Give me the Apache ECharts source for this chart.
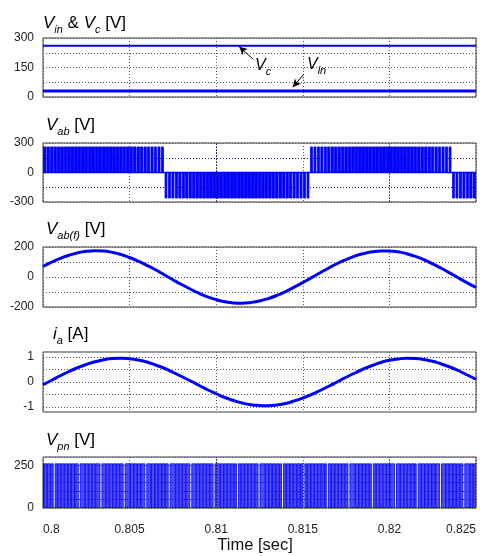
<!DOCTYPE html>
<html><head><meta charset="utf-8">
<script src="https://cdn.jsdelivr.net/npm/echarts@6/dist/echarts.min.js"></script>
<style>html,body{margin:0;padding:0;background:#fff}#c{width:480px;height:556px}</style>
</head><body><div id="c"></div>
<script>
// ---------------- data ----------------
const timeMin = 0.8, timeMax = 0.825, timeStep = 0.005;
const xTickLabels = ['0.8', '0.805', '0.81', '0.815', '0.82', '0.825'];
const innerGridTimes = [0.805, 0.81, 0.815, 0.82];

// panel 1 : V_in & V_c
const dcTimes = [0.8, 0.805, 0.81, 0.815, 0.82, 0.825];
const vcValues = [260, 260, 260, 260, 260, 260];
const vinValues = [31, 31, 31, 31, 31, 31];
const yLabels1 = [0, 150, 300];

// panel 2 : V_ab PWM (carrier clock + signed duty per carrier period, estimated from the picture density)
const carrierStart = 0.8001;
const carrierPeriod = 0.0002;
const vabLevel = 260;
const vabDuty = [
  0.71, 0.72, 0.74, 0.76, 0.77, 0.79, 0.80, 0.81, 0.82, 0.83,
  0.84, 0.84, 0.85, 0.85, 0.85, 0.85, 0.85, 0.84, 0.83, 0.83,
  0.82, 0.81, 0.79, 0.78, 0.76, 0.75, 0.73, 0.71, 0.69, 0.67,
  0.65, 0.63, 0.61, 0.59, 0.56, -0.56, -0.58, -0.61, -0.63, -0.65,
  -0.67, -0.69, -0.71, -0.73, -0.75, -0.76, -0.78, -0.79, -0.81, -0.82,
  -0.83, -0.83, -0.84, -0.85, -0.85, -0.85, -0.85, -0.85, -0.85, -0.84,
  -0.83, -0.82, -0.81, -0.80, -0.79, -0.77, -0.76, -0.74, -0.72, -0.71,
  -0.69, -0.67, -0.64, -0.62, -0.60, -0.58, -0.55, 0.57, 0.59, 0.61,
  0.63, 0.66, 0.68, 0.70, 0.72, 0.73, 0.75, 0.77, 0.78, 0.80,
  0.81, 0.82, 0.83, 0.84, 0.84, 0.85, 0.85, 0.85, 0.85, 0.85,
  0.84, 0.84, 0.83, 0.82, 0.81, 0.80, 0.78, 0.77, 0.75, 0.73,
  0.72, 0.70, 0.68, 0.66, 0.63, 0.61, 0.59, 0.57, -0.55, -0.57,
  -0.60, -0.62, -0.64, -0.66, -0.69
];
const vabBaseline = [[0.8, 0], [0.825, 0]];
const yLabels2 = [-300, 0, 300];
const vabGridValues = [-150, 150];

// panels 3,4 : sampled waveforms
const sampleTimes = [
  0.8, 0.8005, 0.801, 0.8015, 0.802, 0.8025, 0.803, 0.8035, 0.804, 0.8045,
  0.805, 0.8055, 0.806, 0.8065, 0.807, 0.8075, 0.808, 0.8085, 0.809, 0.8095,
  0.81, 0.8105, 0.811, 0.8115, 0.812, 0.8125, 0.813, 0.8135, 0.814, 0.8145,
  0.815, 0.8155, 0.816, 0.8165, 0.817, 0.8175, 0.818, 0.8185, 0.819, 0.8195,
  0.82, 0.8205, 0.821, 0.8215, 0.822, 0.8225, 0.823, 0.8235, 0.824, 0.8245, 0.825
];
const vabfValues = [
  70, 99, 124, 145, 161, 171, 175, 173, 164, 150,
  130, 106, 78, 48, 15, -18, -50, -80, -108, -132,
  -151, -165, -173, -175, -170, -160, -144, -123, -97, -68,
  -37, -4, 28, 60, 90, 116, 139, 156, 168, 174,
  174, 168, 155, 138, 115, 88, 58, 26, -7, -39, -70
];
const yLabels3 = [-200, 0, 200];
const iaValues = [
  -0.11, 0.07, 0.25, 0.42, 0.57, 0.70, 0.81, 0.89, 0.94, 0.95,
  0.93, 0.88, 0.80, 0.68, 0.55, 0.39, 0.22, 0.05, -0.13, -0.31,
  -0.47, -0.62, -0.74, -0.84, -0.91, -0.94, -0.95, -0.92, -0.86, -0.76,
  -0.64, -0.50, -0.34, -0.17, 0.01, 0.19, 0.36, 0.52, 0.66, 0.78,
  0.87, 0.92, 0.95, 0.94, 0.90, 0.83, 0.72, 0.60, 0.45, 0.28, 0.11
];
const yLabels4 = [-1, 0, 1];
const iaGridValues = [-1, -0.5, 0, 0.5, 1];

// panel 5 : V_pn (shoot-through notches at switching instants, light stripes)
const vpnLevel = 260;
const vpnNotchWidth = 0.00003;
const vpnStripeWidth = 0.00011;
const vpnLightStripes = [
  0.80059, 0.80204, 0.80329, 0.80463, 0.80588, 0.80723, 0.80848, 0.80982, 0.81117, 0.81242,
  0.81377, 0.81501, 0.81636, 0.81761, 0.81896, 0.82030, 0.82155, 0.82290, 0.82424
];
const yLabels5 = [0, 250];
const vpnGridValues = [50, 100, 150, 200];

// ---------------- build ----------------
function zip(xs, ys) { return xs.map((x, i) => [x, ys[i]]); }
// pulses as [start, end, level]
function buildPulses(duty, level) {
  return duty.map((d, i) => {
    const c = carrierStart + i * carrierPeriod;
    const half = Math.abs(d) * carrierPeriod / 2;
    return [c - half, c + half, d >= 0 ? level : -level];
  });
}
function buildVpn() {
  const notches = [];
  vabDuty.forEach((d, i) => {
    const c = carrierStart + i * carrierPeriod;
    const t = c - Math.abs(d) * carrierPeriod / 2;
    const near = vpnLightStripes.some(s => t > s - 0.00012 && t < s + vpnStripeWidth + 0.00012);
    if (!near) notches.push([t, vpnNotchWidth]);
  });
  vpnLightStripes.forEach(s => notches.push([s, vpnStripeWidth]));
  notches.sort((a, b) => a[0] - b[0]);
  const on = [];
  let cur = timeMin;
  notches.forEach(([t, w]) => { if (t > cur) on.push([cur, t, vpnLevel]); cur = t + w; });
  if (cur < timeMax) on.push([cur, timeMax, vpnLevel]);
  return on;
}
function pulseRenderer(fill, strokeW) {
  return (params, api) => {
    const a = api.coord([api.value(0), 0]);
    const b = api.coord([api.value(1), api.value(2)]);
    return {
      type: 'rect',
      shape: { x: a[0], y: Math.min(a[1], b[1]), width: Math.max(b[0] - a[0], 0.3), height: Math.abs(b[1] - a[1]) },
      style: { fill: fill, stroke: '#0000ff', lineWidth: strokeW }
    };
  };
}

const FONT = '"Liberation Sans", Arial, Helvetica, sans-serif';
const NARROW = '"Liberation Sans Narrow", "Arial Narrow", "Liberation Sans", sans-serif';
const BLUE = '#0000ff';
const GRIDLINE = { color: '#555', type: [1, 2], width: 1 };
const OVERGRID = { color: '#101060', type: [1, 2], width: 1, opacity: 0.75 };

function overGrid(yValues) {
  return {
    silent: true, z: 10, symbol: ['none', 'none'], label: { show: false }, lineStyle: OVERGRID,
    data: yValues.map(v => ({ yAxis: v })).concat(innerGridTimes.map(t => ({ xAxis: t })))
  };
}

function rich(size, sub) {
  const base = { fontFamily: FONT, fontWeight: 'normal', color: '#000', verticalAlign: 'bottom' };
  return {
    v: Object.assign({}, base, { fontStyle: 'italic', fontSize: size, padding: [0, 0, 3, 0] }),
    s: Object.assign({}, base, { fontStyle: 'italic', fontSize: sub }),
    n: Object.assign({}, base, { fontStyle: 'normal', fontSize: size, padding: [0, 0, 3, 0] })
  };
}
function title(text, left, top, size, sub) {
  return { text, left, top, padding: 0, textStyle: { fontWeight: 'normal', rich: rich(size, sub) } };
}

const panels = [[38, 59], [143, 59], [247, 60], [352, 60], [457, 51]];
const yDefs = [
  { min: 0, max: 300, interval: 75, labels: yLabels1, split: true },
  { min: -300, max: 300, interval: 150, labels: yLabels2, split: true },
  { min: -200, max: 200, interval: 100, labels: yLabels3, split: true },
  { min: -1.2, max: 1.2, interval: 0.2, labels: yLabels4, split: false },
  { min: 0, max: 300, interval: 50, labels: yLabels5, split: true }
];

const option = {
  animation: false,
  backgroundColor: '#fff',
  textStyle: { fontFamily: FONT },
  title: [
    title('{v|V}{s|in}{n| & }{v|V}{s|c}{n| [V]}', 43, 15, 17, 11),
    title('{v|V}{s|ab}{n| [V]}', 46, 117, 17, 11),
    title('{v|V}{s|ab(f)}{n| [V]}', 46, 221, 17, 11),
    title('{v|i}{s|a}{n| [A]}', 53, 326, 17, 11),
    title('{v|V}{s|pn}{n| [V]}', 46, 432, 17, 11),
    title('{v|V}{s|c}', 255, 58, 16, 11),
    title('{v|V}{s|in}', 307, 57, 16, 11)
  ],
  grid: panels.map(p => ({
    left: 43, width: 433, top: p[0], height: p[1], show: true,
    borderColor: '#3a3a3a', borderWidth: 1, backgroundColor: '#fff',
    containLabel: false, outerBoundsMode: 'none'
  })),
  xAxis: panels.map((p, i) => ({
    type: 'value', gridIndex: i, min: timeMin, max: timeMax, interval: timeStep,
    axisLine: { show: false }, axisTick: { show: false },
    splitLine: { show: true, lineStyle: GRIDLINE },
    axisLabel: i === 4 ? {
      show: true, margin: 16, fontSize: 12, fontFamily: NARROW, color: '#222',
      alignMinLabel: 'left', alignMaxLabel: 'right',
      formatter: v => xTickLabels[Math.round((v - timeMin) / timeStep)] || ''
    } : { show: false }
  })),
  yAxis: yDefs.map((d, i) => ({
    type: 'value', gridIndex: i, min: d.min, max: d.max, interval: d.interval,
    axisLine: { show: false }, axisTick: { show: false },
    splitLine: { show: d.split, lineStyle: GRIDLINE },
    axisLabel: {
      margin: 9, fontSize: 12, fontFamily: NARROW, color: '#222',
      formatter: v => { const l = d.labels.find(x => Math.abs(x - v) < 1e-6); return l === undefined ? '' : String(l); }
    }
  })),
  series: [
    {
      name: 'Vc', type: 'line', xAxisIndex: 0, yAxisIndex: 0, data: zip(dcTimes, vcValues),
      showSymbol: false, lineStyle: { color: BLUE, width: 2 }, itemStyle: { color: BLUE },
      markLine: {
        silent: true, symbol: ['none', 'arrow'], symbolSize: [6, 8], label: { show: false },
        lineStyle: { color: '#000', width: 1, type: 'solid' },
        data: [[{ coord: [0.81214, 192] }, { coord: [0.81133, 256] }],
               [{ coord: [0.81507, 117] }, { coord: [0.81442, 50] }]]
      }
    },
    {
      name: 'Vin', type: 'line', xAxisIndex: 0, yAxisIndex: 0, data: zip(dcTimes, vinValues),
      showSymbol: false, lineStyle: { color: BLUE, width: 3 }, itemStyle: { color: BLUE }
    },
    {
      name: 'VabZero', type: 'line', xAxisIndex: 1, yAxisIndex: 1, data: vabBaseline,
      showSymbol: false, lineStyle: { color: BLUE, width: 1.5 }, itemStyle: { color: BLUE }
    },
    {
      name: 'Vab', type: 'custom', xAxisIndex: 1, yAxisIndex: 1, data: buildPulses(vabDuty, vabLevel),
      encode: { x: [0, 1], y: 2 }, clip: true, renderItem: pulseRenderer('#0000ff', 0.8),
      markLine: overGrid(vabGridValues)
    },
    {
      name: 'Vabf', type: 'line', xAxisIndex: 2, yAxisIndex: 2, data: zip(sampleTimes, vabfValues),
      showSymbol: false, smooth: true, lineStyle: { color: BLUE, width: 3 }, itemStyle: { color: BLUE }
    },
    {
      name: 'iaGrid', type: 'line', xAxisIndex: 3, yAxisIndex: 3, data: [],
      markLine: {
        silent: true, z: 1, symbol: ['none', 'none'], label: { show: false },
        lineStyle: GRIDLINE, data: iaGridValues.map(v => ({ yAxis: v }))
      }
    },
    {
      name: 'ia', type: 'line', xAxisIndex: 3, yAxisIndex: 3, data: zip(sampleTimes, iaValues),
      showSymbol: false, smooth: true, lineStyle: { color: BLUE, width: 3 }, itemStyle: { color: BLUE }
    },
    {
      name: 'Vpn', type: 'custom', xAxisIndex: 4, yAxisIndex: 4, data: buildVpn(),
      encode: { x: [0, 1], y: 2 }, clip: true, renderItem: pulseRenderer('rgba(35,35,240,0.82)', 0.8),
      markLine: overGrid(vpnGridValues)
    }
  ],
  graphic: [{
    type: 'text', x: 255, y: 545,
    style: { text: 'Time [sec]', font: '16.5px "Liberation Sans", Arial, sans-serif', fill: '#111', align: 'center', verticalAlign: 'middle' }
  }]
};

const chart = echarts.init(document.getElementById('c'));
chart.setOption(option);
</script>
</body></html>
